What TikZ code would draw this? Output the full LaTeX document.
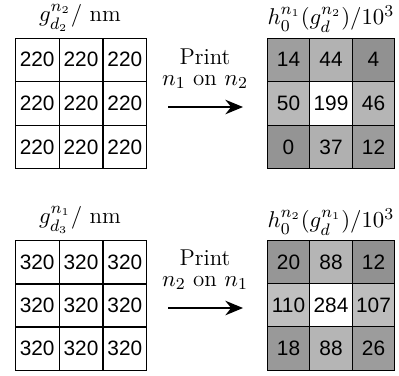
\documentclass[tikz,border=0pt]{standalone}
\usepackage{amsmath}
\usepackage{fontspec}
\newfontfamily\cellfont{Liberation Sans}
\usetikzlibrary{arrows.meta}

\begin{document}
\begin{tikzpicture}[x=0.48pt, y=-0.48pt, >={Stealth[length=8.5pt, width=7pt, inset=2.8pt]},
	every node/.style={font=\fontsize{11}{13}\selectfont},
	cellL/.style={draw, line width=0.5pt, inner sep=0pt, minimum width=21.1pt, minimum height=20.9pt, font=\cellfont\fontsize{10}{12}\selectfont},
	cellR/.style={cellL, minimum width=20.4pt}]
	\useasboundingbox (0,0) rectangle (399,375);
	
	% top: layer thickness grid
	\foreach \r in {0,1,2}
	\foreach \c in {0,1,2}
	\node[cellL] (ga\r\c) at (37.2+43.8*\c, 59.8+43.6*\r) {220};
	\node (tga) at (80,18) {$g^{n_2}_{d_2}/\ \mathrm{nm}$};
	
	% top: print n1 on n2
	\node (pa) at (205,57) {Print};
	\node (oa) at (205,82) {$n_1$ on $n_2$};
	\coordinate (sa) at (168,107);
	\coordinate (ea) at (243,107);
	\draw[->, line width=0.6pt] (sa) -- (ea);
	
	% top: result grid
	\foreach \v/\g [count=\k from 0] in {14/38, 44/30, 4/43, 50/28, 199/0, 46/29, 0/42, 37/31, 12/39} {
		\pgfmathtruncatemacro{\r}{div(\k,3)}
		\pgfmathtruncatemacro{\c}{mod(\k,3)}
		\node[cellR, fill=black!\g] (ha\r\c) at (288.5+42.5*\c, 59.8+43.6*\r) {\v};
	}
	\node (tha) at (331,19) {$h_0^{n_1}(g_d^{n_2})/10^3$};
	
	% bottom: layer thickness grid
	\foreach \r in {0,1,2}
	\foreach \c in {0,1,2}
	\node[cellL] (gb\r\c) at (37.2+43.8*\c, 262.5+43*\r) {320};
	\node (tgb) at (80,220) {$g^{n_1}_{d_3}/\ \mathrm{nm}$};
	
	% bottom: print n2 on n1
	\node (pb) at (205,258) {Print};
	\node (ob) at (205,283) {$n_2$ on $n_1$};
	\coordinate (sb) at (168,308);
	\coordinate (eb) at (243,308);
	\draw[->, line width=0.6pt] (sb) -- (eb);
	
	% bottom: result grid
	\foreach \v/\g [count=\k from 0] in {20/41, 88/29, 12/43, 110/25, 284/0, 107/26, 18/40, 88/29, 26/39} {
		\pgfmathtruncatemacro{\r}{div(\k,3)}
		\pgfmathtruncatemacro{\c}{mod(\k,3)}
		\node[cellR, fill=black!\g] (hb\r\c) at (288.5+42.5*\c, 262.5+43*\r) {\v};
	}
	\node (thb) at (331,222) {$h_0^{n_2}(g_d^{n_1})/10^3$};
\end{tikzpicture}
\end{document}
